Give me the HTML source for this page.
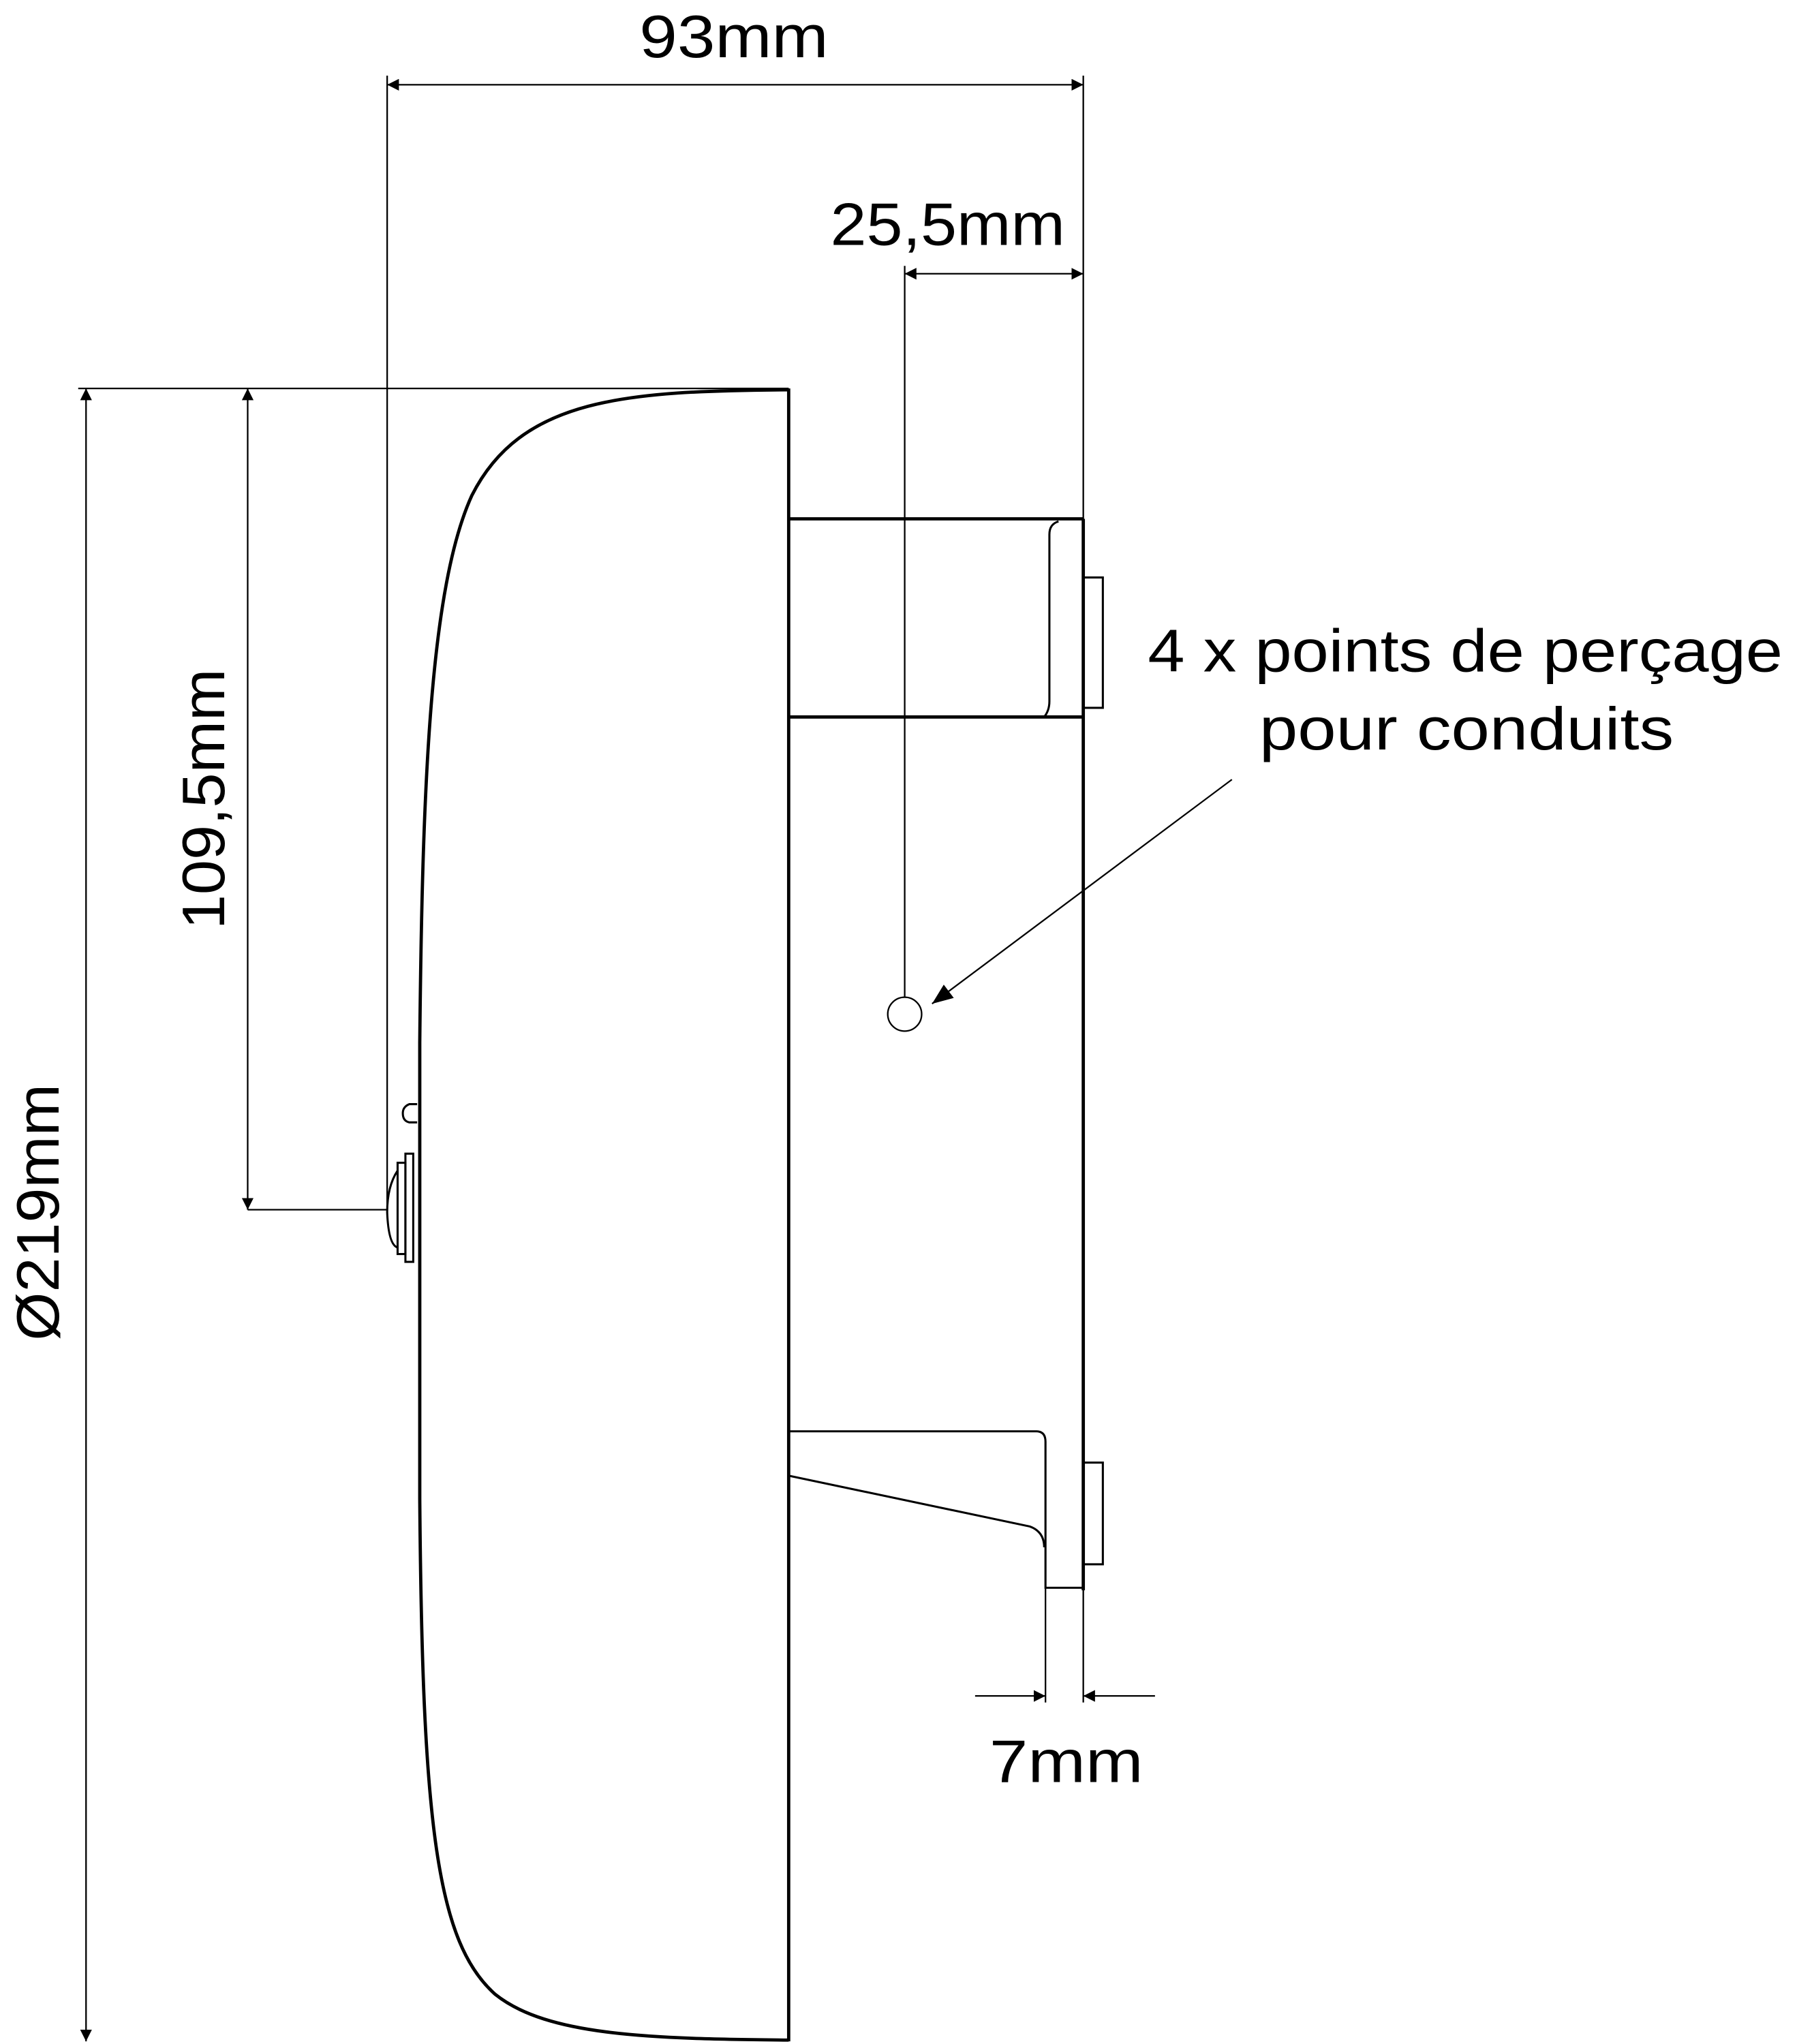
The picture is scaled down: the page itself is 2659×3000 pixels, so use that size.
<!DOCTYPE html>
<html><head><meta charset="utf-8"><style>html,body{margin:0;padding:0;background:#fff}svg{display:block}</style></head>
<body>
<svg width="2659" height="3000" viewBox="0 0 1390 1568" preserveAspectRatio="none" xmlns="http://www.w3.org/2000/svg">
<defs>
<marker id="a" viewBox="0 0 10 10" refX="10" refY="5" markerWidth="9" markerHeight="9" markerUnits="userSpaceOnUse" orient="auto-start-reverse"><path d="M0,0 L10,5 L0,10 Z" fill="#000"/></marker>
<marker id="b" viewBox="0 0 10 10" refX="10" refY="5" markerWidth="16" markerHeight="16" markerUnits="userSpaceOnUse" orient="auto"><path d="M0,1 L10,5 L0,9 Z" fill="#000"/></marker>
</defs>
<g fill="none" stroke="#000" stroke-width="1.2">
<!-- 93mm -->
<line x1="297" y1="65" x2="831" y2="65" marker-start="url(#a)" marker-end="url(#a)"/>
<line x1="297" y1="58" x2="297" y2="930"/>
<line x1="831" y1="58" x2="831" y2="398"/>
<!-- 25,5 -->
<line x1="694" y1="210" x2="831" y2="210" marker-start="url(#a)" marker-end="url(#a)"/>
<line x1="694" y1="204" x2="694" y2="765"/>
<circle cx="694" cy="778" r="13"/>
<!-- Ø219 -->
<line x1="66" y1="298" x2="66" y2="1566" marker-start="url(#a)" marker-end="url(#a)"/>
<line x1="60" y1="298" x2="605" y2="298"/>
<!-- 109,5 -->
<line x1="190" y1="298" x2="190" y2="928" marker-start="url(#a)" marker-end="url(#a)"/>
<line x1="190" y1="928" x2="297" y2="928"/>
<!-- 7mm -->
<line x1="802" y1="1218" x2="802" y2="1306"/>
<line x1="831" y1="1218" x2="831" y2="1306"/>
<line x1="748" y1="1301" x2="802" y2="1301" marker-end="url(#a)"/>
<line x1="886" y1="1301" x2="831" y2="1301" marker-end="url(#a)"/>
<!-- leader -->
<line x1="945" y1="598" x2="715" y2="770" marker-end="url(#b)"/>
</g>
<g fill="none" stroke="#000" stroke-width="2.5">
<path d="M605,299 C480,300 400,305 362,380 C330,450 324,600 322,800 L322,1150 C324,1400 335,1490 380,1530 C420,1562 500,1564 605,1565"/>
<line x1="605" y1="298" x2="605" y2="1566"/>
<line x1="831" y1="398" x2="831" y2="1220"/>
<line x1="605" y1="398" x2="831" y2="398"/>
<line x1="605" y1="550" x2="831" y2="550"/>
</g>
<g fill="none" stroke="#000" stroke-width="1.6">
<path d="M812,400 Q805,402 805,410 L805,538 Q805,545 801,550"/>
<rect x="831" y="443" width="15" height="100"/>
<path d="M605,1098 L795,1098 Q802,1098 802,1106 L802,1218 L831,1218"/>
<path d="M605,1132 L790,1171 Q801,1175 801,1187"/>
<rect x="831" y="1122" width="15" height="78"/>
<!-- button -->
<rect x="314" y="1634" width="0" height="0"/>
<rect x="311" y="885" width="6" height="83"/>
<rect x="305" y="892" width="6" height="70"/>
<path d="M305,898 Q297,910 297,930 Q298,955 305,957"/>
<path d="M320,847 L314,847 Q309,849 309,854 Q309,860 314,861 L320,861"/>
</g>
<g font-family="Liberation Sans, sans-serif" font-size="46" fill="#000" text-anchor="middle">
<text x="563" y="44" textLength="145" lengthAdjust="spacingAndGlyphs">93mm</text>
<text x="727" y="188" textLength="180" lengthAdjust="spacingAndGlyphs">25,5mm</text>
<text x="818" y="1367" textLength="118" lengthAdjust="spacingAndGlyphs">7mm</text>
<text x="1124" y="515" textLength="487" lengthAdjust="spacingAndGlyphs">4 x points de perçage</text>
<text x="1125" y="575" textLength="318" lengthAdjust="spacingAndGlyphs">pour conduits</text>
<text transform="translate(172,613) rotate(-90)" textLength="200" lengthAdjust="spacingAndGlyphs">109,5mm</text>
<text transform="translate(45,930) rotate(-90)" textLength="197" lengthAdjust="spacingAndGlyphs">Ø219mm</text>
</g>
</svg>
</body></html>
